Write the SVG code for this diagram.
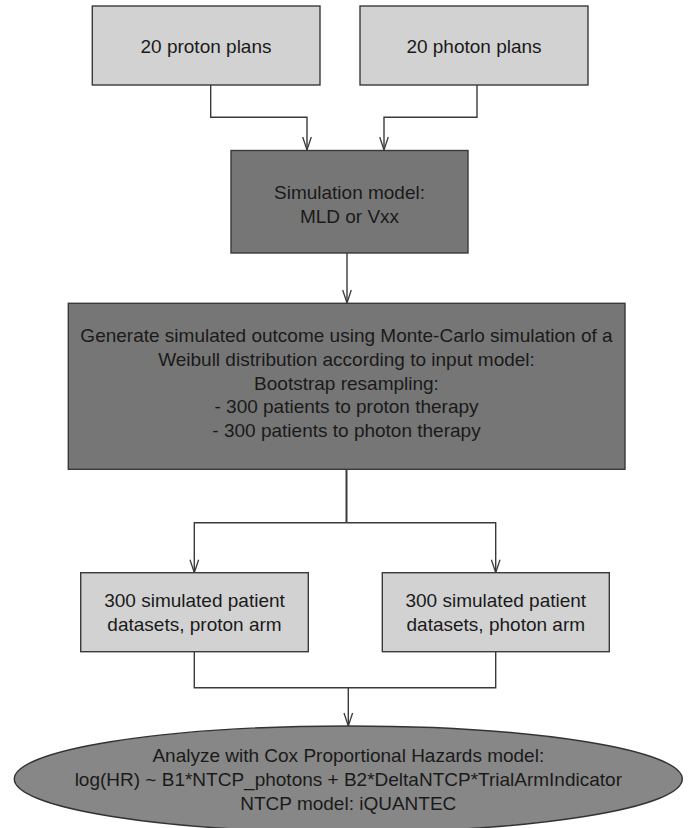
<svg xmlns="http://www.w3.org/2000/svg" width="693" height="828" viewBox="0 0 693 828">
<style>
.light{fill:#d2d2d2;stroke:#3a3a3a;stroke-width:1.4}
.dark{fill:#767676;stroke:#3a3a3a;stroke-width:1.4}
.oval{fill:#878787;stroke:#333;stroke-width:1.4}
text{font-family:"Liberation Sans",Arial,Helvetica,sans-serif;font-size:19px;fill:#1a1a1a;text-anchor:middle}
.conn{fill:none;stroke:#3a3a3a;stroke-width:1.4}
</style>
<defs>
<marker id="arr" markerUnits="userSpaceOnUse" markerWidth="16" markerHeight="12" viewBox="-15 -6 16 12" refX="0" refY="0" orient="auto" overflow="visible">
<path d="M-13,-4.3 L0,0 L-13,4.3" fill="none" stroke="#3a3a3a" stroke-width="1.3"/>
</marker>
</defs>
<rect x="0" y="0" width="693" height="828" fill="#fff"/>
<g id="connectors">
<path class="conn" d="M210.7,85 V117.3 H307 V150" marker-end="url(#arr)"/>
<path class="conn" d="M477,85 V117.3 H384 V150" marker-end="url(#arr)"/>
<path class="conn" d="M347,253 V303" marker-end="url(#arr)"/>
<path class="conn" d="M346.5,469 V522.7" style="stroke-width:2"/>
<path class="conn" d="M346.5,522.7 H194.3 V572.7" marker-end="url(#arr)"/>
<path class="conn" d="M346.5,522.7 H495.7 V572.7" marker-end="url(#arr)"/>
<path class="conn" d="M194.3,651.7 V687.7 H495.7 V651.7"/>
<path class="conn" d="M348.3,687.7 V726" marker-end="url(#arr)"/>
</g>
<g id="proton-plans">
<rect class="light" x="92.3" y="6" width="227.7" height="79"/>
<text x="206" y="53">20 proton plans</text>
</g>
<g id="photon-plans">
<rect class="light" x="360" y="6" width="228" height="79"/>
<text x="474" y="53">20 photon plans</text>
</g>
<g id="simulation-model">
<rect class="dark" x="231" y="150.5" width="237" height="102.5"/>
<text x="349.5" y="198.5">Simulation model:</text>
<text x="349.5" y="223">MLD or Vxx</text>
</g>
<g id="generate">
<rect class="dark" x="68.3" y="303.3" width="556.7" height="166"/>
<text x="346.5" y="341.7">Generate simulated outcome using Monte-Carlo simulation of a</text>
<text x="346.5" y="365.7">Weibull distribution according to input model:</text>
<text x="346.5" y="389.7">Bootstrap resampling:</text>
<text x="346.5" y="413.4">- 300 patients to proton therapy</text>
<text x="346.5" y="437.2">- 300 patients to photon therapy</text>
</g>
<g id="proton-arm">
<rect class="light" x="80.7" y="572.7" width="227.6" height="79"/>
<text x="194.5" y="607">300 simulated patient</text>
<text x="194.5" y="630.7">datasets, proton arm</text>
</g>
<g id="photon-arm">
<rect class="light" x="382.3" y="572.7" width="227" height="79"/>
<text x="495.8" y="607">300 simulated patient</text>
<text x="495.8" y="630.7">datasets, photon arm</text>
</g>
<g id="cox-analysis">
<ellipse class="oval" cx="348.3" cy="779" rx="334" ry="53"/>
<text x="348.3" y="761.7">Analyze with Cox Proportional Hazards model:</text>
<text x="348.3" y="786">log(HR) ~ B1*NTCP_photons + B2*DeltaNTCP*TrialArmIndicator</text>
<text x="348.3" y="809.5">NTCP model: iQUANTEC</text>
</g>
</svg>
